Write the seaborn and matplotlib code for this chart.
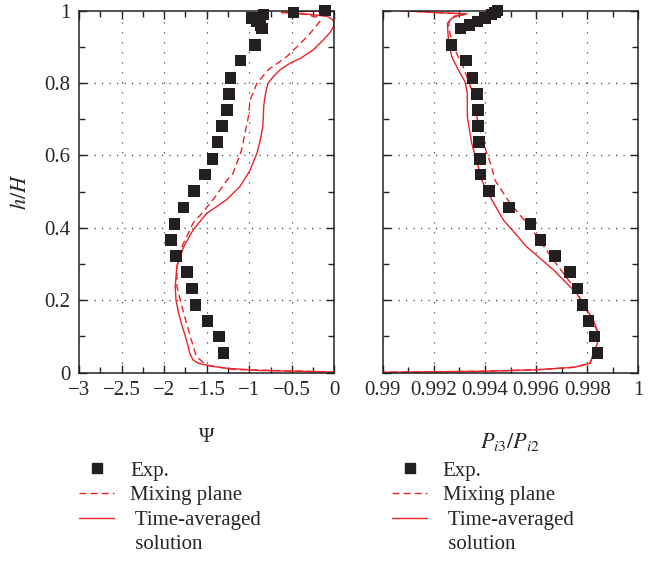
import matplotlib
matplotlib.use("Agg")
import matplotlib.pyplot as plt
from matplotlib.lines import Line2D
from matplotlib.ticker import MultipleLocator
import seaborn as sns

# ---- measured profiles along the blade span ----
h_exp = [1.0, 0.995, 0.99, 0.98, 0.97, 0.96, 0.95, 0.905, 0.862, 0.814, 0.770,
         0.726, 0.681, 0.637, 0.590, 0.547, 0.502, 0.457, 0.411, 0.367, 0.322,
         0.278, 0.233, 0.187, 0.143, 0.100, 0.054]
psi_exp = [-0.11, -0.48, -0.83, -0.97, -0.91, -0.87, -0.85, -0.93, -1.10, -1.22,
           -1.24, -1.26, -1.32, -1.37, -1.43, -1.52, -1.65, -1.77, -1.88, -1.92,
           -1.86, -1.73, -1.67, -1.63, -1.49, -1.355, -1.30]
p_exp = [0.99450, 0.99440, 0.99425, 0.99400, 0.99370, 0.99340, 0.99305, 0.99270,
         0.99326, 0.99351, 0.99368, 0.99372, 0.99372, 0.99377, 0.99381, 0.99383,
         0.99416, 0.99494, 0.99579, 0.99618, 0.99674, 0.99733, 0.99763, 0.99782,
         0.99806, 0.99828, 0.99841]

# ---- flow coefficient, numerical ----
h_psi_ta = [1.0, 0.998, 0.995, 0.990, 0.984, 0.975, 0.965, 0.956, 0.940, 0.919,
            0.891, 0.868, 0.855, 0.836, 0.817, 0.799, 0.781, 0.755, 0.735, 0.705,
            0.680, 0.643, 0.606, 0.559, 0.514, 0.477, 0.440, 0.394, 0.348, 0.293,
            0.238, 0.200, 0.164, 0.130, 0.100, 0.075, 0.054, 0.035, 0.026, 0.018,
            0.012, 0.006, 0.002]
psi_ta = [-0.05, -0.35, -0.62, -0.30, -0.08, -0.02, 0.0, -0.01, -0.05, -0.13,
          -0.25, -0.40, -0.52, -0.64, -0.72, -0.78, -0.80, -0.82, -0.83, -0.835,
          -0.84, -0.87, -0.91, -0.99, -1.11, -1.27, -1.50, -1.66, -1.77, -1.85,
          -1.87, -1.86, -1.83, -1.79, -1.75, -1.72, -1.70, -1.66, -1.60, -1.45,
          -1.26, -0.87, -0.02]
h_psi_mp = [1.0, 0.998, 0.995, 0.990, 0.982, 0.970, 0.955, 0.928, 0.900, 0.873,
            0.836, 0.799, 0.753, 0.707, 0.661, 0.615, 0.551, 0.532, 0.486, 0.450,
            0.413, 0.348, 0.293, 0.238, 0.164, 0.090, 0.044, 0.021, 0.009, 0.002]
psi_mp = [-0.05, -0.35, -0.62, -0.35, -0.20, -0.17, -0.22, -0.32, -0.44, -0.56,
          -0.78, -0.91, -0.99, -1.01, -1.05, -1.09, -1.19, -1.26, -1.40, -1.52,
          -1.66, -1.79, -1.85, -1.85, -1.77, -1.68, -1.62, -1.50, -1.19, -0.02]

# ---- total pressure ratio, numerical ----
h_p_ta = [1.0, 0.995, 0.991, 0.985, 0.979, 0.965, 0.919, 0.873, 0.836, 0.804,
          0.772, 0.707, 0.634, 0.569, 0.532, 0.486, 0.422, 0.348, 0.284, 0.219,
          0.146, 0.100, 0.060, 0.040, 0.026, 0.015, 0.008, 0.004, 0.001]
p_ta = [0.99080, 0.99200, 0.99330, 0.99290, 0.99270, 0.99253, 0.99257, 0.99270,
        0.99296, 0.99322, 0.99331, 0.99331, 0.99348, 0.99374, 0.99387, 0.99420,
        0.99472, 0.99563, 0.99668, 0.99759, 0.99824, 0.99848, 0.99830, 0.99818,
        0.99811, 0.99750, 0.99600, 0.99400, 0.99000]
h_p_mp = [1.0, 0.995, 0.991, 0.985, 0.975, 0.960, 0.937, 0.891, 0.845, 0.781,
          0.707, 0.634, 0.569, 0.532, 0.468, 0.403, 0.311, 0.238, 0.155, 0.109,
          0.060, 0.026, 0.015, 0.008, 0.004, 0.001]
p_mp = [0.99080, 0.99200, 0.99320, 0.99280, 0.99262, 0.99258, 0.99263, 0.99283,
        0.99315, 0.99348, 0.99368, 0.99394, 0.99426, 0.99439, 0.99498, 0.99576,
        0.99668, 0.99746, 0.99811, 0.99844, 0.99830, 0.99811, 0.99750, 0.99600,
        0.99400, 0.99000]

psi_ticks = [-3, -2.5, -2, -1.5, -1, -0.5, 0]
psi_ticklabels = ["\u22123", "\u22122.5", "\u22122", "\u22121.5", "\u22121", "\u22120.5", "0"]
p_ticks = [0.99, 0.992, 0.994, 0.996, 0.998, 1.0]
p_ticklabels = ["0.99", "0.992", "0.994", "0.996", "0.998", "1"]
h_ticks = [0, 0.2, 0.4, 0.6, 0.8, 1.0]
h_ticklabels = ["0", "0.2", "0.4", "0.6", "0.8", "1"]

legend_labels = ["Exp.", "Mixing plane", " Time-averaged", " solution"]

RED = "#ec2227"
BLACK = "#231f20"

sns.set_style("ticks")
plt.rcParams["font.family"] = ["Liberation Serif", "DejaVu Serif"]
plt.rcParams["mathtext.fontset"] = "stix"
plt.rcParams["axes.linewidth"] = 1.1
plt.rcParams["axes.edgecolor"] = "#222222"

fig = plt.figure(figsize=(6.53, 5.61), dpi=100)
ax1 = fig.add_axes([0.1210, 0.3357, 0.3910, 0.6453])
ax2 = fig.add_axes([0.5861, 0.3357, 0.3914, 0.6453])

FS = 15


def style_axes(ax, xticks, xlabels, xminor, show_ylabels):
    ax.set_ylim(0, 1)
    ax.set_xticks(xticks)
    ax.set_xticklabels(xlabels, fontsize=FS)
    ax.set_yticks(h_ticks)
    if show_ylabels:
        ax.set_yticklabels(h_ticklabels, fontsize=FS)
    else:
        ax.set_yticklabels([])
    ax.xaxis.set_minor_locator(MultipleLocator(xminor))
    ax.yaxis.set_minor_locator(MultipleLocator(0.1))
    ax.tick_params(which="both", direction="in", top=True, right=True,
                   color="#222222", width=1.0)
    ax.tick_params(which="major", length=6, pad=6)
    ax.tick_params(which="minor", length=4)
    # dotted grid: horizontal at major h ticks, vertical at major x ticks
    ax.grid(False)
    for xv in xticks[1:-1]:
        ax.axvline(xv, color="#444444", lw=0.9, ls=(0, (1, 7)), zorder=0)
    for yv in h_ticks[1:-1]:
        ax.axhline(yv, color="#444444", lw=0.9, ls=(0, (1, 5)), zorder=0)


# Left panel: flow coefficient
sns.lineplot(x=psi_mp, y=h_psi_mp, ax=ax1, sort=False, estimator=None,
             color=RED, lw=1.0, linestyle=(0, (5, 3)))
sns.lineplot(x=psi_ta, y=h_psi_ta, ax=ax1, sort=False, estimator=None,
             color=RED, lw=1.0)
sns.scatterplot(x=psi_exp, y=h_exp, ax=ax1, marker="s", s=68, color=BLACK,
                edgecolor="none", zorder=5, clip_on=False)
ax1.set_xlim(-3, 0)
style_axes(ax1, psi_ticks, psi_ticklabels, 0.25, True)
ax1.set_xlabel("\u03a8", fontsize=FS, labelpad=20)
ax1.set_ylabel(r"$h/H$", fontsize=FS + 1, labelpad=10)

# Right panel: total pressure ratio
sns.lineplot(x=p_mp, y=h_p_mp, ax=ax2, sort=False, estimator=None,
             color=RED, lw=1.0, linestyle=(0, (5, 3)))
sns.lineplot(x=p_ta, y=h_p_ta, ax=ax2, sort=False, estimator=None,
             color=RED, lw=1.0)
sns.scatterplot(x=p_exp, y=h_exp, ax=ax2, marker="s", s=68, color=BLACK,
                edgecolor="none", zorder=5, clip_on=False)
ax2.set_xlim(0.99, 1.0)
style_axes(ax2, p_ticks, p_ticklabels, 0.001, False)
ax2.set_xlabel(r"$P_{i3}/P_{i2}$", fontsize=FS + 1, labelpad=22)
ax2.set_ylabel("")


def make_handles():
    return [
        Line2D([], [], marker="s", ls="none", color=BLACK, markersize=7.5),
        Line2D([], [], color=RED, lw=1.0, ls=(0, (5, 3))),
        Line2D([], [], color=RED, lw=1.0),
        Line2D([], [], color="none", lw=0),
    ]


for xa in (0.121, 0.600):
    fig.legend(make_handles(), legend_labels, loc="upper left",
               bbox_to_anchor=(xa, 0.178), frameon=False, fontsize=FS,
               handlelength=1.7, handletextpad=0.75, labelspacing=0.24,
               borderpad=0, borderaxespad=0)

fig.savefig("out.png", dpi=100)
